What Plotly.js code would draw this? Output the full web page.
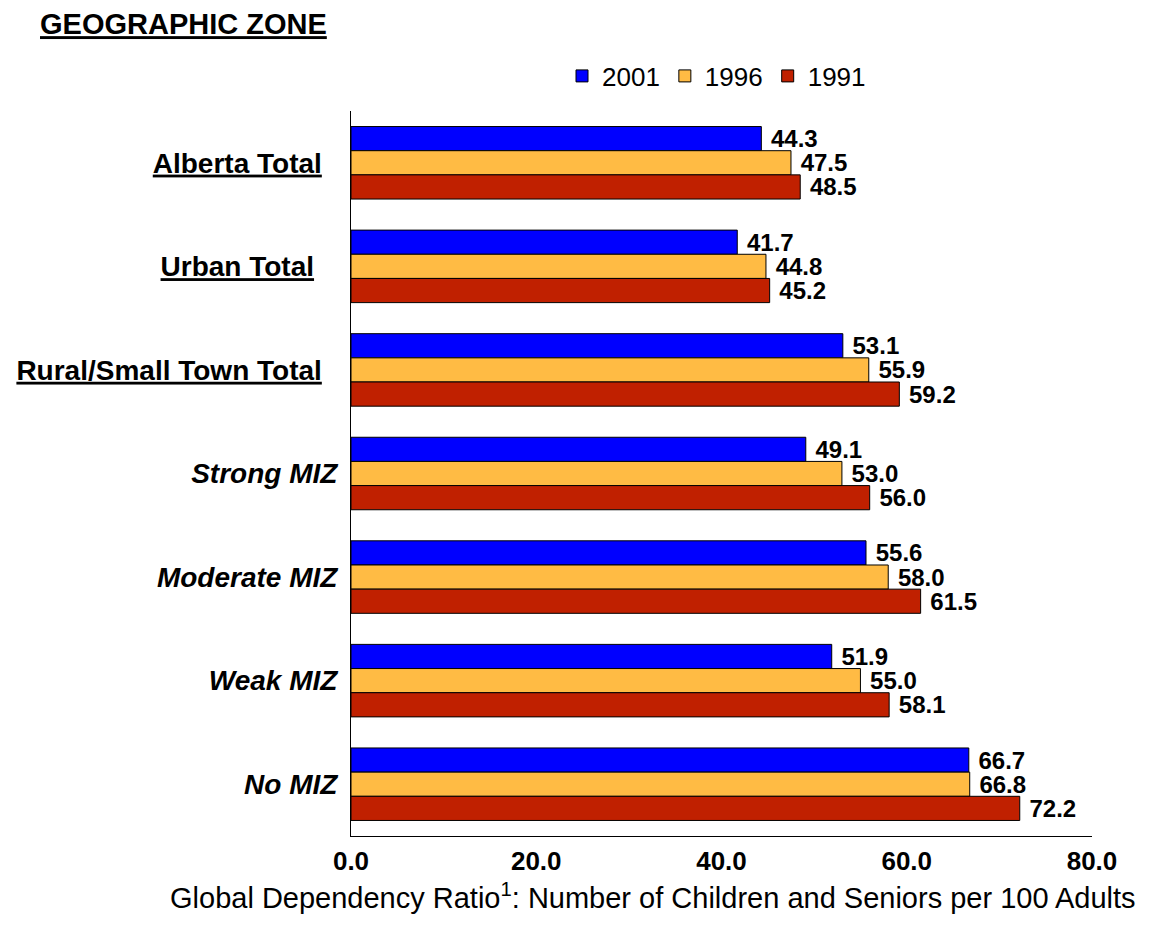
<!DOCTYPE html>
<html>
<head>
<meta charset="utf-8">
<script src="https://cdn.plot.ly/plotly-3.0.1.min.js"></script>
<style>html,body{margin:0;padding:0;background:#fff;}#chart{width:1151px;height:931px;}</style>
</head>
<body>
<div id="chart"></div>
<script>
// ---- data ----
const categories = ["Alberta Total", "Urban Total", "Rural/Small Town Total", "Strong MIZ", "Moderate MIZ", "Weak MIZ", "No MIZ"];
const years = ["2001", "1996", "1991"];
const values2001 = [44.3, 41.7, 53.1, 49.1, 55.6, 51.9, 66.7];
const values1996 = [47.5, 44.8, 55.9, 53.0, 58.0, 55.0, 66.8];
const values1991 = [48.5, 45.2, 59.2, 56.0, 61.5, 58.1, 72.2];
const xTickValues = [0, 20, 40, 60, 80];
const chartTitle = "GEOGRAPHIC ZONE";
const xAxisTitle = "Global Dependency Ratio<sup>1</sup>: Number of Children and Seniors per 100 Adults";

// ---- styling ----
const totalCategories = ["Alberta Total", "Urban Total", "Rural/Small Town Total"];
const trailingPad = {"Alberta Total": 2, "Urban Total": 3, "Rural/Small Town Total": 2};
function tickText(c) {
  if (totalCategories.includes(c)) {
    return '<b><span style="text-decoration:underline">' + c + '</span></b>' + '&nbsp;'.repeat(trailingPad[c] || 0);
  }
  return '<b><i>' + c + '</i></b>';
}
const colors = {"2001": "#0000FF", "1996": "#FFBB44", "1991": "#C02000"};
const seriesValues = {"2001": values2001, "1996": values1996, "1991": values1991};
const FONT = "Arial, 'Liberation Sans', sans-serif";

const traces = years.map(yr => ({
  type: 'bar',
  orientation: 'h',
  name: yr,
  y: categories,
  x: seriesValues[yr],
  marker: {color: colors[yr], line: {color: '#000', width: 1}},
  text: seriesValues[yr].map(v => v.toFixed(1)),
  texttemplate: '&nbsp;<b>%{text}</b>',
  textposition: 'outside',
  constraintext: 'none',
  cliponaxis: false,
  textfont: {family: FONT, size: 24, color: '#000'},
  hoverinfo: 'skip'
}));

const layout = {
  width: 1151,
  height: 931,
  paper_bgcolor: '#fff',
  plot_bgcolor: '#fff',
  font: {family: FONT, color: '#000'},
  margin: {l: 351, r: 59, t: 111, b: 95, pad: 0},
  barmode: 'group',
  bargap: 0.30,
  bargroupgap: 0,
  title: {
    text: '<b><span style="text-decoration:underline">' + chartTitle + '</span></b>',
    font: {family: FONT, size: 29, color: '#000'},
    x: 40 / 1151, xref: 'container', xanchor: 'left',
    y: 1 - 24 / 931, yref: 'container', yanchor: 'middle'
  },
  showlegend: true,
  legend: {
    orientation: 'h',
    xref: 'container', x: 562 / 1151, xanchor: 'left',
    yref: 'container', y: 1 - 76 / 931, yanchor: 'middle',
    font: {family: FONT, size: 26, color: '#000'},
    traceorder: 'normal',
    itemwidth: 30,
    bgcolor: 'rgba(0,0,0,0)'
  },
  annotations: [{
    text: xAxisTitle,
    xref: 'paper', x: (653 - 351) / 741, xanchor: 'center',
    yref: 'paper', y: (836 - 896) / 725, yanchor: 'middle',
    showarrow: false,
    font: {family: FONT, size: 29, color: '#000'}
  }],
  xaxis: {
    range: [0, 80],
    tickvals: xTickValues,
    ticktext: xTickValues.map(v => '<b>' + v.toFixed(1) + '</b>'),
    tickfont: {family: FONT, size: 26, color: '#000'},
    showgrid: false,
    zeroline: false,
    showline: true,
    linecolor: '#000',
    linewidth: 1,
    ticks: 'outside',
    ticklen: 2,
    tickcolor: 'rgba(0,0,0,0)',
    fixedrange: true
  },
  yaxis: {
    type: 'category',
    autorange: 'reversed',
    tickvals: categories,
    ticktext: categories.map(tickText),
    tickfont: {family: FONT, size: 28, color: '#000'},
    showgrid: false,
    zeroline: false,
    showline: true,
    linecolor: '#000',
    linewidth: 1,
    ticks: 'outside',
    ticklen: 7,
    tickcolor: 'rgba(0,0,0,0)',
    fixedrange: true
  }
};

Plotly.newPlot('chart', traces, layout, {displayModeBar: false, staticPlot: true});
</script>
</body>
</html>
